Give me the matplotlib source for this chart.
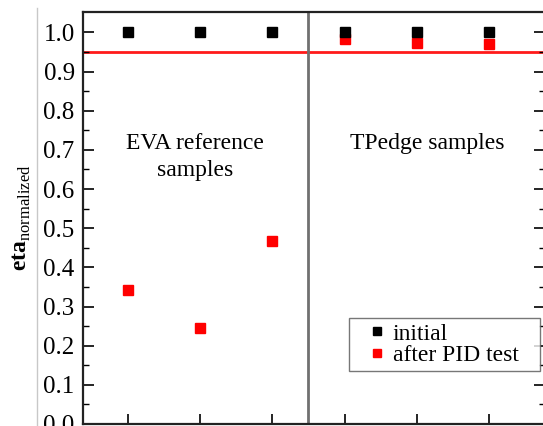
import matplotlib
matplotlib.use("Agg")
import matplotlib.pyplot as plt
from matplotlib.lines import Line2D

# data
samples = [1, 2, 3, 4, 5, 6]
eta_initial = [1.0, 1.0, 1.0, 1.0, 1.0, 1.0]
eta_after_pid = [0.343, 0.245, 0.468, 0.983, 0.973, 0.971]
threshold = 0.95
divider = 3.5

plt.rcParams["font.family"] = ["Liberation Serif", "DejaVu Serif"]
plt.rcParams["mathtext.fontset"] = "custom"
plt.rcParams["mathtext.rm"] = "Liberation Serif"
plt.rcParams["mathtext.bf"] = "Liberation Serif:bold"

fig = plt.figure(figsize=(5.43, 4.26), dpi=100)
ax = fig.add_axes([83 / 543, 2 / 426, 462 / 543, 412 / 426])

ax.axhline(threshold, color="#ff1a1a", lw=2, zorder=1)
ax.axvline(divider, color="#707070", lw=2, zorder=1)

ax.plot(samples, eta_initial, "s", color="black", ms=7, label="initial", zorder=3)
ax.plot(samples, eta_after_pid, "s", color="#ff0000", ms=7, label="after PID test", zorder=2)

ax.set_xlim(0.384, 6.77)
ax.set_ylim(0, 1.052)
ax.set_xticks(samples)
ax.set_xticklabels([])
ax.set_yticks([i / 10 for i in range(11)])
ax.set_yticks([i / 20 for i in range(21)], minor=True)
ax.tick_params(axis="y", which="major", direction="in", length=8, width=1.2,
               labelsize=18, pad=6, right=True)
ax.tick_params(axis="y", which="minor", direction="in", length=4, width=1.0, right=True)
ax.tick_params(axis="x", which="major", direction="in", length=7, width=1.2, top=False)
for s in ax.spines.values():
    s.set_linewidth(1.6)
    s.set_color("#222222")

ax.set_ylabel(r"$\mathbf{eta}_{\mathrm{normalized}}$", fontsize=17)
ax.yaxis.set_label_coords(-0.108, 0.5)

ax.text(1.93, 0.7175, "EVA reference", ha="center", va="center", fontsize=17)
ax.text(1.93, 0.648, "samples", ha="center", va="center", fontsize=17)
ax.text(5.14, 0.7175, "TPedge samples", ha="center", va="center", fontsize=17)

leg = ax.legend(loc="lower left", bbox_to_anchor=(0.576, 0.129, 0.413, 0.12),
                mode="expand", fontsize=17, frameon=True, fancybox=False,
                handlelength=2.0, handletextpad=-0.35, borderpad=0.2,
                labelspacing=0.0, borderaxespad=0, markerscale=0.8)
leg.get_frame().set_edgecolor("#555555")
leg.get_frame().set_linewidth(1.0)

fig.add_artist(Line2D([37 / 543, 37 / 543], [0, 418 / 426], color="#c8c8c8", lw=1))

fig.savefig("out.png", dpi=100)
